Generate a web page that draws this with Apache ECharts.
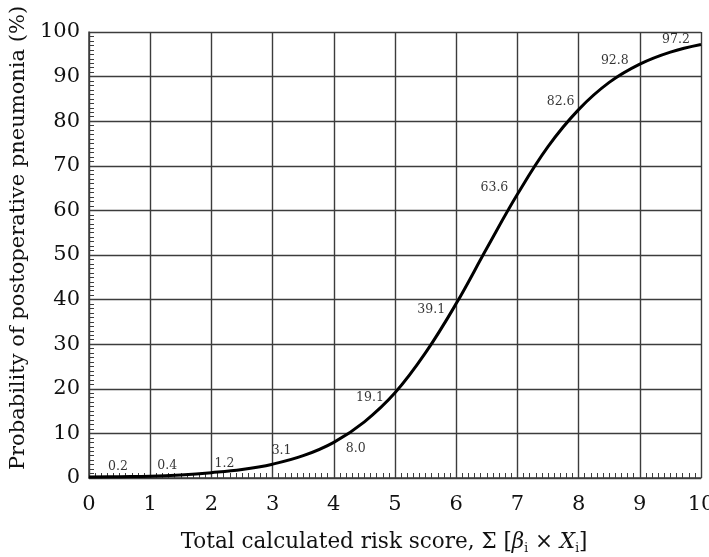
<!DOCTYPE html>
<html>
<head>
<meta charset="utf-8">
<script src="https://cdn.jsdelivr.net/npm/echarts@6/dist/echarts.min.js"></script>
<style>html,body{margin:0;padding:0;background:#fff}#c{width:709px;height:557px}</style>
</head>
<body>
<div id="c"></div>
<script>
// Curve
var curveX = [0, 0.5, 1, 1.5, 2, 2.5, 3, 3.5, 4, 4.5, 5, 5.5, 6, 6.5, 7, 7.5, 8, 8.5, 9, 9.5, 10];
var curveY = [0.2, 0.3, 0.4, 0.7, 1.2, 1.9, 3.1, 5.0, 8.0, 12.6, 19.1, 28.1, 39.1, 51.5, 63.6, 74.3, 82.6, 88.7, 92.8, 95.5, 97.2];
// Labelled points
var pointX = [0, 1, 2, 3, 4, 5, 6, 7, 8, 9, 10];
var pointY = [0.2, 0.4, 1.2, 3.1, 8.0, 19.1, 39.1, 63.6, 82.6, 92.8, 97.2];
var pointLabels = ['0.2', '0.4', '1.2', '3.1', '8.0', '19.1', '39.1', '63.6', '82.6', '92.8', '97.2'];
var xTicks = ['0', '1', '2', '3', '4', '5', '6', '7', '8', '9', '10'];
var yTicks = ['0', '10', '20', '30', '40', '50', '60', '70', '80', '90', '100'];

// label offsets (style)
var labelOffsets = [[29,-10],[17,-10],[13,-9],[9,-13],[22,6],[-25,5],[-25,6],[-23,-7],[-18,-8],[-25,-3],[-25,-5]];

var FONT = 'DejaVu Serif';
var GRID = '#3c3c3c';

var chart = echarts.init(document.getElementById('c'), null, {renderer: 'canvas'});
var curveData = curveX.map(function (x, i) { return [x, curveY[i]]; });
var pointData = pointX.map(function (x, i) {
  return {
    value: [x, pointY[i]],
    label: { show: true, position: 'inside', offset: labelOffsets[i], formatter: pointLabels[i] }
  };
});

chart.setOption({
  animation: false,
  backgroundColor: '#fff',
  grid: { left: 89, right: 8, top: 32, bottom: 79, containLabel: false, outerBoundsMode: 'none' },
  xAxis: {
    type: 'value', min: 0, max: 10, interval: 1,
    name: '{a|Total calculated risk score, Σ [}{b|β}{s|i}{a| × }{b|X}{s|i}{a|]}',
    nameLocation: 'middle', nameGap: 52,
    nameTextStyle: {
      padding: [0, 22, 0, 0],
      rich: {
        a: { fontFamily: FONT, fontSize: 21.5, color: '#111' },
        b: { fontFamily: FONT, fontSize: 21.5, fontStyle: 'italic', color: '#111' },
        s: { fontFamily: FONT, fontSize: 12, color: '#111', padding: [13, 0, 0, 0] }
      }
    },
    axisLine: { show: true, lineStyle: { color: GRID, width: 1.5 } },
    axisTick: { show: false, inside: true },
    minorTick: { show: true, splitNumber: 10, length: 5, lineStyle: { color: GRID, width: 1 } },
    splitLine: { show: true, lineStyle: { color: GRID, width: 1.4 } },
    axisLabel: { margin: 16, fontFamily: FONT, fontSize: 21, color: '#111',
      formatter: function (v) { return xTicks[Math.round(v)]; } }
  },
  yAxis: {
    type: 'value', min: 0, max: 100, interval: 10,
    name: 'Probability of postoperative pneumonia (%)',
    nameLocation: 'middle', nameGap: 58,
    nameTextStyle: { fontFamily: FONT, fontSize: 21, color: '#111', padding: [0, 0, 0, 34] },
    axisLine: { show: true, lineStyle: { color: GRID, width: 1.5 } },
    axisTick: { show: false, inside: true },
    minorTick: { show: true, splitNumber: 10, length: 5, lineStyle: { color: GRID, width: 1 } },
    splitLine: { show: true, lineStyle: { color: GRID, width: 1.4 } },
    axisLabel: { margin: 9, fontFamily: FONT, fontSize: 21, color: '#111',
      formatter: function (v) { return yTicks[Math.round(v / 10)]; } }
  },
  series: [
    {
      type: 'line', data: curveData, smooth: 0.4, showSymbol: false, symbol: 'none',
      lineStyle: { color: '#000', width: 3 }, z: 3
    },
    {
      type: 'scatter', data: pointData, symbolSize: 0, z: 4,
      label: { fontFamily: FONT, fontSize: 12.5, color: '#000' }
    }
  ]
});
</script>
</body>
</html>
